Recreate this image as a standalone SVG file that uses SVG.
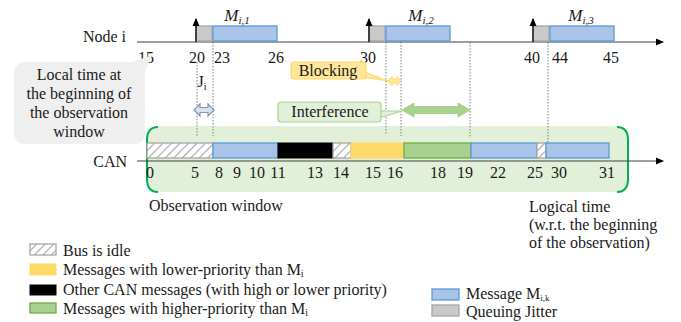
<svg xmlns="http://www.w3.org/2000/svg" width="681" height="322" viewBox="0 0 681 322" font-family="'Liberation Serif', 'DejaVu Serif', serif">
<defs>
<pattern id="hatch" patternUnits="userSpaceOnUse" width="6" height="6" patternTransform="rotate(45)">
<rect width="6" height="6" fill="#ffffff"/>
<line x1="0" y1="0" x2="0" y2="6" stroke="#a6a6a6" stroke-width="2.2"/>
</pattern>
<marker id="ah" markerWidth="8" markerHeight="8" refX="7" refY="4" orient="auto" markerUnits="userSpaceOnUse">
<path d="M0,0.5 L8,4 L0,7.5 Z" fill="#000"/>
</marker>
</defs>
<style>
text{font-family:'Liberation Serif','DejaVu Serif',serif;fill:#1a1a1a;font-size:16px}
.tick{text-anchor:middle}
.axis{stroke:#404040;stroke-width:1.2;fill:none}
.dot{stroke:#7f7f7f;stroke-width:1;stroke-dasharray:1.5 1.5;fill:none}
.blue{fill:#a9c4e8;stroke:#5b9bd5;stroke-width:1.3}
.jit{fill:#c9c9c9;stroke:#a6a6a6;stroke-width:1.3}
.idle{fill:url(#hatch);stroke:#a6a6a6;stroke-width:1.3}
.yel{fill:#ffd966;stroke:#ffd966;stroke-width:1}
.grn{fill:#a9d18e;stroke:#70ad47;stroke-width:1.3}
.blk{fill:#000;stroke:#000;stroke-width:1}
.brk{fill:none;stroke:#00b050;stroke-width:2}
.mi{font-style:italic;font-size:17px;text-anchor:middle}
</style>

<g id="observation-window">
<rect x="147" y="126" width="481" height="66" rx="12" fill="#e2f0d9"/>
<path class="brk" d="M158,127 Q147,127 147,140 L147,179 Q147,192 158,192"/>
<path class="brk" d="M617,127 Q628,127 628,140 L628,179 Q628,192 617,192"/>
</g>

<g id="guides">
<line class="dot" x1="197" y1="62" x2="197" y2="136"/>
<line class="dot" x1="213" y1="42" x2="213" y2="136"/>
<line class="dot" x1="386" y1="42" x2="386" y2="134"/>
<line class="dot" x1="401" y1="42" x2="401" y2="136"/>
<line class="dot" x1="470" y1="42" x2="470" y2="137"/>
<line class="dot" x1="548" y1="42" x2="548" y2="143"/>
</g>

<g id="node-i">
<text x="126" y="42" text-anchor="end" font-size="17">Node  i</text>
<line class="axis" x1="137" y1="42" x2="663" y2="42" marker-end="url(#ah)"/>
<rect class="jit" x="196" y="26" width="16" height="15"/>
<rect class="blue" x="213" y="26" width="64" height="15"/>
<rect class="jit" x="369" y="26" width="16" height="15"/>
<rect class="blue" x="386" y="26" width="64" height="15"/>
<rect class="jit" x="533" y="26" width="16" height="15"/>
<rect class="blue" x="550" y="26" width="64" height="15"/>
<line x1="196" y1="42" x2="196" y2="19" stroke="#000" stroke-width="1.3" marker-end="url(#ah)"/>
<line x1="369" y1="42" x2="369" y2="19" stroke="#000" stroke-width="1.3" marker-end="url(#ah)"/>
<line x1="533" y1="42" x2="533" y2="19" stroke="#000" stroke-width="1.3" marker-end="url(#ah)"/>
<text class="mi" x="237" y="21">M<tspan font-size="11" dy="3">i,1</tspan></text>
<text class="mi" x="421" y="21">M<tspan font-size="11" dy="3">i,2</tspan></text>
<text class="mi" x="581" y="21">M<tspan font-size="11" dy="3">i,3</tspan></text>
<text class="tick" x="146" y="63">15</text>
<text class="tick" x="197" y="63">20</text>
<text class="tick" x="222" y="63">23</text>
<text class="tick" x="276" y="63">26</text>
<text class="tick" x="368" y="63">30</text>
<text class="tick" x="532" y="63">40</text>
<text class="tick" x="560" y="63">44</text>
<text class="tick" x="611" y="63">45</text>
</g>

<g id="local-time-callout">
<path d="M26,62 L132,62 L152,55 L145,72 L145,132 Q145,144 133,144 L26,144 Q14,144 14,132 L14,74 Q14,62 26,62 Z" fill="#efefef"/>
<text x="79" y="80" text-anchor="middle">Local time at</text>
<text x="79" y="99" text-anchor="middle">the beginning of</text>
<text x="79" y="118" text-anchor="middle">the observation</text>
<text x="79" y="137" text-anchor="middle">window</text>
</g>

<g id="jitter-ji">
<text x="202" y="87" text-anchor="middle">J<tspan font-size="10" dy="3">i</tspan></text>
<path d="M194,110 L200,104 L200,107.5 L208,107.5 L208,104 L214,110 L208,116 L208,112.5 L200,112.5 L200,116 Z" fill="#dae3f3" stroke="#8497b0" stroke-width="1.2"/>
</g>

<g id="blocking">
<path d="M362,71 L362,77 L388,81 Z" fill="#ffe699" stroke="#ffd966" stroke-width="1"/>
<rect x="291" y="62" width="75" height="17" rx="3" fill="#ffe699" stroke="#ffd966" stroke-width="1.2"/>
<path d="M388,81 L392,76.5 L392,79 L397,79 L397,76.5 L401,81 L397,85.5 L397,83 L392,83 L392,85.5 Z" fill="#ffe699" stroke="#ffd966" stroke-width="1"/>
<text x="328" y="76" text-anchor="middle">Blocking</text>
</g>

<g id="interference">
<path d="M379,111 L379,118 L402,111 Z" fill="#e2f0d9" stroke="#a9d18e" stroke-width="1"/>
<rect x="278" y="102" width="103" height="20" rx="3" fill="#e2f0d9" stroke="#a9d18e" stroke-width="1.2"/>
<path d="M402,110 L414,103 L414,106.5 L458,106.5 L458,103 L470,110 L458,117 L458,113.5 L414,113.5 L414,117 Z" fill="#a9d18e" stroke="#a9d18e" stroke-width="1"/>
<text x="330" y="117" text-anchor="middle">Interference</text>
</g>

<g id="can">
<text x="127" y="167" text-anchor="end" font-size="17">CAN</text>
<line class="axis" x1="137" y1="161" x2="663" y2="161" marker-end="url(#ah)"/>
<rect class="idle" x="147" y="143" width="66" height="15"/>
<rect class="blue" x="213" y="143" width="65" height="15"/>
<rect class="blk" x="278" y="143" width="55" height="15"/>
<rect class="idle" x="333" y="143" width="18" height="15"/>
<rect class="yel" x="351" y="143" width="53" height="15"/>
<rect class="grn" x="404" y="143" width="67" height="15"/>
<rect class="blue" x="471" y="143" width="66" height="15"/>
<rect class="idle" x="537" y="143" width="9" height="15"/>
<rect class="blue" x="546" y="143" width="63" height="15"/>
<text class="tick" x="150" y="178">0</text>
<text class="tick" x="195" y="178">5</text>
<text class="tick" x="219" y="178">8</text>
<text class="tick" x="237" y="178">9</text>
<text class="tick" x="257" y="178">10</text>
<text class="tick" x="278" y="178">11</text>
<text class="tick" x="315" y="178">13</text>
<text class="tick" x="341" y="178">14</text>
<text class="tick" x="373" y="178">15</text>
<text class="tick" x="395" y="178">16</text>
<text class="tick" x="438" y="178">18</text>
<text class="tick" x="465" y="178">19</text>
<text class="tick" x="498" y="178">22</text>
<text class="tick" x="535" y="178">25</text>
<text class="tick" x="559" y="178">30</text>
<text class="tick" x="607" y="178">31</text>
<text x="149" y="211">Observation window</text>
<text x="529" y="212">Logical time</text>
<text x="529" y="230">(w.r.t. the beginning</text>
<text x="529" y="248">of  the observation)</text>
</g>

<g id="legend">
<rect class="idle" x="30" y="244" width="26" height="11"/>
<text x="63" y="256">Bus is idle</text>
<rect class="yel" x="30" y="264" width="26" height="11"/>
<text x="63" y="275">Messages with lower-priority than M<tspan font-size="10" dy="2">i</tspan></text>
<rect class="blk" x="30" y="285" width="26" height="10"/>
<text x="63" y="295">Other CAN messages (with high or lower priority)</text>
<rect class="grn" x="30" y="303" width="26" height="10"/>
<text x="63" y="314">Messages with higher-priority than M<tspan font-size="10" dy="2">i</tspan></text>
<rect class="blue" x="432" y="289" width="27" height="11"/>
<text x="466" y="299">Message M<tspan font-size="9" dy="1.5">i,k</tspan></text>
<rect class="jit" x="432" y="305" width="27" height="11"/>
<text x="466" y="317">Queuing Jitter</text>
</g>
</svg>
